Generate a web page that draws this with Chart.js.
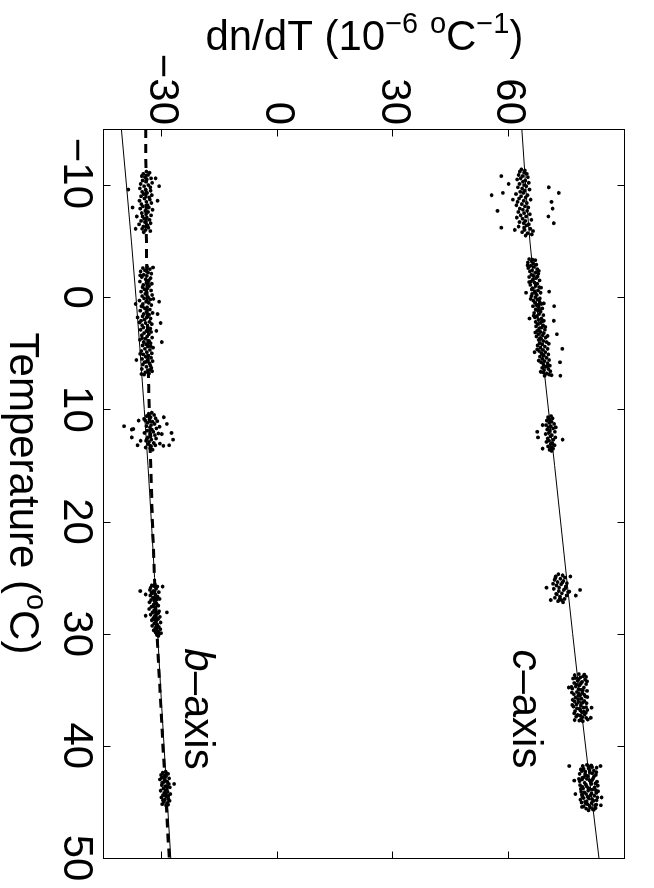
<!DOCTYPE html>
<html>
<head>
<meta charset="utf-8">
<script src="https://cdn.jsdelivr.net/npm/chart.js@4.4.0/dist/chart.umd.min.js"></script>
<style>
  html, body { margin: 0; padding: 0; background: #fff; overflow: hidden; }
  body { width: 654px; height: 888px; position: relative; }
  /* the figure is drawn landscape and turned a quarter clockwise */
  #wrap { position: absolute; left: 0; top: 0; width: 888px; height: 654px;
          transform-origin: 0 0; transform: translate(654px, 0) rotate(90deg); }
</style>
</head>
<body>
<div id="wrap"><canvas id="chart" width="888" height="654"></canvas></div>
<script>
const tempTicks = [-10, 0, 10, 20, 30, 40, 50];
const dndtTicks = [-30, 0, 30, 60];

const fitTemps = [-15, -5, 5, 15, 25, 35, 50];
const cFit = [63.3, 65.4, 68.6, 71.8, 74.9, 78.1, 83.3];
const bFit = [-40.5, -37.9, -35.6, -33.6, -31.9, -30.3, -27.7];
const bFitDashed = [-34.2, -34.0, -33.6, -32.9, -31.9, -30.5, -28.1];

// measured points [temperature, dn/dT], c-axis
const cAxisPoints = [
  // run near -8 C
  [-11.4,63.2],[-11.3,64.1],[-11.2,62.8],[-11.1,63.9],[-11.0,64.6],[-10.9,62.5],[-10.8,63.5],[-10.7,64.9],[-10.6,63.0],[-10.5,62.1],
  [-10.4,64.2],[-10.3,63.6],[-10.2,65.1],[-10.1,62.7],[-10.0,63.9],[-9.9,64.5],[-9.8,62.3],[-9.7,63.4],[-9.6,65.3],[-9.5,64.0],
  [-9.4,62.9],[-9.3,63.7],[-9.2,61.8],[-9.1,64.8],[-9.0,63.1],[-8.9,64.3],[-8.8,62.6],[-8.7,65.6],[-8.6,63.8],[-8.5,62.2],
  [-8.4,64.6],[-8.3,63.3],[-8.2,61.9],[-8.1,64.1],[-8.0,65.0],[-7.9,62.8],[-7.8,63.6],[-7.7,64.7],[-7.6,62.4],[-7.5,63.9],
  [-7.4,65.4],[-7.3,63.0],[-7.2,64.4],[-7.1,62.0],[-7.0,63.5],[-6.9,65.8],[-6.8,64.2],[-6.7,62.7],[-6.6,63.8],[-6.5,65.1],
  [-6.4,64.5],[-6.3,62.5],[-6.2,63.9],[-6.1,65.5],[-6.0,64.0],[-5.9,66.2],[-5.8,63.4],[-5.7,64.8],[-5.6,65.9],[-5.5,64.3],
  [-9.1,55.5],[-7.7,57.0],[-10.8,58.0],[-6.2,58.0],[-9.3,58.4],[-10.1,59.9],[-9.8,70.3],[-9.3,72.9],[-8.5,71.0],[-7.9,71.3],
  [-7.2,70.2],[-6.6,71.6],[-8.7,61.0],[-6.0,61.5],
  // run near 2 C
  [-3.4,65.2],[-3.3,66.8],[-3.2,65.9],[-3.1,64.9],[-3.0,66.3],[-2.9,67.1],[-2.8,65.6],[-2.7,66.5],[-2.6,65.0],[-2.5,67.3],
  [-2.4,66.0],[-2.3,65.4],[-2.2,66.9],[-2.1,67.6],[-2.0,65.8],[-1.9,66.4],[-1.8,65.2],[-1.7,67.0],[-1.6,66.2],[-1.5,67.9],
  [-1.4,65.7],[-1.3,66.6],[-1.2,67.3],[-1.1,65.5],[-1.0,66.9],[-0.9,67.8],[-0.8,66.1],[-0.7,65.9],[-0.6,67.5],[-0.5,66.6],
  [-0.4,68.2],[-0.3,66.0],[-0.2,67.2],[-0.1,65.8],[0.0,66.8],[0.1,68.0],[0.2,67.4],[0.3,66.3],[0.4,67.9],[0.5,66.7],
  [0.6,68.4],[0.7,67.1],[0.8,66.2],[0.9,67.7],[1.0,68.6],[1.1,66.9],[1.2,67.5],[1.3,68.2],[1.4,66.5],[1.5,67.8],
  [1.6,68.9],[1.7,67.2],[1.8,66.7],[1.9,68.4],[2.0,67.6],[2.1,69.0],[2.2,66.9],[2.3,68.1],[2.4,67.4],[2.5,68.8],
  [2.6,67.0],[2.7,68.5],[2.8,67.8],[2.9,69.3],[3.0,67.3],[3.1,68.2],[3.2,69.0],[3.3,67.6],[3.4,68.7],[3.5,67.1],
  [3.6,69.5],[3.7,68.3],[3.8,67.7],[3.9,68.9],[4.0,69.7],[4.1,67.9],[4.2,68.6],[4.3,67.4],[4.4,69.3],[4.5,68.1],
  [4.6,70.0],[4.7,68.8],[4.8,67.8],[4.9,69.4],[5.0,68.4],[5.1,70.2],[5.2,69.0],[5.3,68.0],[5.4,69.7],[5.5,68.6],
  [5.6,70.4],[5.7,69.2],[5.8,68.3],[5.9,70.0],[6.0,68.9],[6.1,70.6],[6.2,69.5],[6.3,68.6],[6.4,70.2],[6.5,69.1],
  [6.6,70.7],[6.7,68.8],[6.8,69.8],[6.9,70.4],[7.0,69.2],
  [-3.35,66.1],[-2.85,64.8],[-2.35,67.7],[-1.85,67.4],[-1.35,65.2],[-0.85,68.3],[-0.35,66.9],[0.15,65.6],[0.65,67.7],[1.15,68.0],
  [1.65,66.4],[2.15,68.5],[2.65,69.4],[3.15,66.8],[3.65,68.0],[4.15,70.3],[4.65,67.3],[5.15,68.8],[5.65,67.7],[6.15,69.9],
  [6.65,68.2],[6.95,71.0],[0.55,69.0],[3.45,70.0],
  [-0.5,70.4],[0.8,71.7],[2.1,71.6],[3.3,72.4],[4.6,73.8],[5.8,73.2],[7.0,73.3],[-0.4,64.4],[1.9,65.3],[4.9,66.6],
  // run near 12 C
  [10.6,70.9],[10.7,70.1],[10.8,71.3],[10.9,70.5],[11.0,69.8],[11.1,71.0],[11.2,70.4],[11.3,71.7],[11.4,69.6],[11.5,70.8],
  [11.6,70.2],[11.7,71.4],[11.8,69.9],[11.9,70.6],[12.0,71.9],[12.1,70.3],[12.2,69.5],[12.3,71.1],[12.4,70.7],[12.5,72.0],
  [12.6,70.0],[12.7,71.5],[12.8,70.4],[12.9,69.7],[13.0,71.2],[13.1,70.8],[13.2,71.8],[13.3,70.1],[13.4,70.9],[13.5,71.4],
  [13.6,70.5],[13.7,71.0],
  [12.0,67.3],[12.5,67.5],[11.4,68.7],[13.5,68.7],[12.7,73.9],[11.6,72.1],
  // run near 26 C
  [24.7,72.8],[24.8,73.9],[24.9,72.1],[25.0,74.5],[25.1,73.3],[25.2,71.8],[25.3,74.1],[25.4,72.6],[25.5,75.0],[25.6,73.5],
  [25.7,72.3],[25.8,74.7],[25.9,73.0],[26.0,71.6],[26.1,74.2],[26.2,72.9],[26.3,75.3],[26.4,73.7],[26.5,72.4],[26.6,74.9],
  [26.7,73.2],[26.8,71.9],[26.9,74.4],[27.0,73.6],[27.1,72.7],[27.2,74.0],[25.05,72.0],[25.45,73.8],[25.95,74.6],[26.45,72.2],
  [26.95,73.1],[25.55,71.4],[26.25,75.6],
  [26.6,77.3],[26.1,78.4],[27.0,70.8],[25.9,69.7],[24.9,75.9],
  // run near 36 C
  [33.6,78.1],[33.7,77.0],[33.8,79.2],[33.9,78.5],[34.0,76.6],[34.1,79.7],[34.2,77.8],[34.3,78.9],[34.4,76.9],[34.5,80.0],
  [34.6,78.3],[34.7,77.3],[34.8,79.4],[34.9,76.4],[35.0,78.7],[35.1,80.2],[35.2,77.6],[35.3,79.0],[35.4,76.8],[35.5,78.4],
  [35.6,79.8],[35.7,77.2],[35.8,78.8],[35.9,76.5],[36.0,79.5],[36.1,78.0],[36.2,80.1],[36.3,77.5],[36.4,78.6],[36.5,76.7],
  [36.6,79.3],[36.7,78.2],[36.8,80.3],[36.9,77.1],[37.0,78.9],[37.1,76.9],[37.2,79.6],[37.3,78.4],[37.4,77.4],[37.5,80.0],
  [37.6,78.7],[37.7,77.0],[37.8,79.1],[34.05,78.0],[34.55,77.5],[35.05,79.1],[35.55,77.9],[36.05,77.0],[36.55,80.0],[37.05,79.9],
  [33.85,80.0],[35.35,78.1],[36.85,78.5],
  [33.65,79.5],[33.95,77.2],[34.25,80.2],[34.45,78.6],[34.75,76.2],[34.95,78.0],[35.25,76.3],[35.65,80.3],[35.85,77.9],[36.15,79.1],
  [36.35,76.4],[36.65,77.6],[36.95,79.4],[37.25,77.8],[37.45,79.0],[37.65,80.4],[37.75,78.2],[35.45,79.5],
  [36.6,81.4],[37.5,81.2],[34.8,75.5],
  // run near 44 C
  [41.7,80.2],[41.8,79.1],[41.9,81.5],[42.0,80.6],[42.1,78.6],[42.2,82.0],[42.3,79.8],[42.4,81.0],[42.5,78.3],[42.6,82.5],
  [42.7,80.4],[42.8,79.4],[42.9,81.8],[43.0,78.9],[43.1,80.9],[43.2,82.8],[43.3,79.6],[43.4,81.3],[43.5,78.4],[43.6,80.1],
  [43.7,82.2],[43.8,79.2],[43.9,81.6],[44.0,80.5],[44.1,78.7],[44.2,82.6],[44.3,80.0],[44.4,81.1],[44.5,79.0],[44.6,82.9],
  [44.7,80.7],[44.8,78.5],[44.9,81.9],[45.0,79.7],[45.1,81.4],[45.2,80.3],[45.3,82.3],[45.4,79.3],[45.5,81.0],[45.6,80.0],
  [45.7,82.0],[41.75,81.3],[42.05,79.3],[42.35,82.6],[42.65,80.0],[42.95,78.1],[43.25,81.2],[43.55,83.0],[43.85,80.8],[44.15,79.5],
  [44.45,82.1],[44.75,81.5],[45.05,78.8],[45.35,80.9],[45.65,81.7],[42.15,80.9],[43.45,79.9],[44.05,83.1],[44.95,80.1],[43.15,78.3],
  [41.85,80.6],[42.25,78.9],[42.45,81.6],[42.75,82.0],[42.85,79.0],[43.05,81.5],[43.35,82.4],[43.65,79.0],[43.75,80.5],[43.95,82.5],
  [44.25,81.4],[44.35,78.9],[44.55,80.4],[44.85,82.7],[45.15,79.9],[45.25,82.6],[45.45,78.9],[45.55,82.4],[42.55,79.7],[43.85,78.6],
  [44.65,79.3],[45.75,80.6],[41.95,82.7],[42.95,80.2],
  [41.8,75.6],[41.8,83.7],[43.1,76.9],[44.3,77.2],[45.3,83.8],[44.6,84.0]
];

// measured points [temperature, dn/dT], b-axis
const bAxisPoints = [
  // run near -8 C
  [-11.2,-34.0],[-11.1,-33.2],[-11.0,-34.8],[-10.9,-33.6],[-10.8,-35.2],[-10.7,-34.4],[-10.6,-32.8],[-10.5,-33.9],[-10.4,-35.0],[-10.3,-34.1],
  [-10.2,-32.5],[-10.1,-35.5],[-10.0,-33.5],[-9.9,-34.6],[-9.8,-33.0],[-9.7,-35.7],[-9.6,-34.2],[-9.5,-32.9],[-9.4,-35.1],[-9.3,-33.8],
  [-9.2,-34.7],[-9.1,-32.6],[-9.0,-35.4],[-8.9,-33.3],[-8.8,-34.5],[-8.7,-33.1],[-8.6,-35.8],[-8.5,-34.0],[-8.4,-32.7],[-8.3,-35.3],
  [-8.2,-33.7],[-8.1,-34.9],[-8.0,-33.4],[-7.9,-35.6],[-7.8,-32.4],[-7.7,-34.3],[-7.6,-33.6],[-7.5,-35.2],[-7.4,-34.1],[-7.3,-32.8],
  [-7.2,-35.0],[-7.1,-33.9],[-7.0,-34.6],[-6.9,-33.2],[-6.8,-35.4],[-6.7,-34.4],[-6.6,-32.9],[-6.5,-35.9],[-6.4,-33.7],[-6.3,-34.8],
  [-6.2,-33.5],[-6.1,-35.1],[-6.0,-34.2],[-5.9,-33.0],[-5.8,-34.7],
  [-9.6,-38.7],[-8.0,-37.6],[-7.2,-36.5],[-6.1,-36.8],[-8.6,-31.1],[-9.9,-30.7],[-10.6,-31.6],
  // run near 2 C
  [-2.7,-33.8],[-2.6,-34.9],[-2.5,-33.1],[-2.4,-34.4],[-2.3,-35.5],[-2.2,-33.6],[-2.1,-32.7],[-2.0,-34.7],[-1.9,-33.9],[-1.8,-35.2],
  [-1.7,-32.9],[-1.6,-34.2],[-1.5,-33.4],[-1.4,-35.7],[-1.3,-34.0],[-1.2,-32.6],[-1.1,-34.8],[-1.0,-33.3],[-0.9,-35.0],[-0.8,-33.7],
  [-0.7,-34.5],[-0.6,-32.8],[-0.5,-35.4],[-0.4,-33.9],[-0.3,-34.3],[-0.2,-32.5],[-0.1,-35.1],[0.0,-33.6],[0.1,-34.6],[0.2,-33.0],
  [0.3,-35.8],[0.4,-34.1],[0.5,-33.4],[0.6,-34.9],[0.7,-32.7],[0.8,-35.3],[0.9,-33.8],[1.0,-34.4],[1.1,-33.1],[1.2,-35.6],
  [1.3,-34.0],[1.4,-32.4],[1.5,-34.7],[1.6,-33.5],[1.7,-35.0],[1.8,-33.9],[1.9,-32.9],[2.0,-34.5],[2.1,-35.4],[2.2,-33.2],
  [2.3,-34.2],[2.4,-32.6],[2.5,-35.1],[2.6,-33.7],[2.7,-34.8],[2.8,-33.0],[2.9,-35.5],[3.0,-34.0],[3.1,-32.8],[3.2,-34.6],
  [3.3,-33.4],[3.4,-35.2],[3.5,-33.8],[3.6,-32.5],[3.7,-34.3],[3.8,-35.7],[3.9,-33.3],[4.0,-34.7],[4.1,-32.9],[4.2,-34.1],
  [4.3,-35.0],[4.4,-33.6],[4.5,-32.3],[4.6,-34.4],[4.7,-33.1],[4.8,-35.3],[4.9,-33.9],[5.0,-32.6],[5.1,-34.8],[5.2,-33.5],
  [5.3,-34.2],[5.4,-32.8],[5.5,-35.1],[5.6,-33.7],[5.7,-32.4],[5.8,-34.5],[5.9,-33.2],[6.0,-34.9],[6.1,-33.0],[6.2,-34.0],
  [6.3,-32.7],[6.4,-35.2],[6.5,-33.6],[6.6,-32.5],[6.7,-34.3],[6.8,-33.3],[6.9,-34.6],
  [-2.65,-32.3],[-1.95,-35.6],[-1.25,-33.6],[-0.55,-34.0],[0.15,-32.2],[0.85,-34.9],[1.55,-33.3],[2.25,-35.8],[2.95,-33.4],[3.65,-35.1],
  [4.35,-32.9],[5.05,-35.6],[5.75,-34.0],[6.45,-32.9],[6.85,-35.3],
  [0.4,-30.7],[0.6,-36.8],[1.5,-31.1],[2.3,-30.3],[4.0,-30.0],[1.8,-36.3],[5.6,-36.6],[3.0,-31.4],
  // run near 12 C
  [10.3,-32.6],[10.4,-33.4],[10.5,-32.0],[10.6,-33.9],[10.7,-32.9],[10.8,-31.6],[10.9,-33.2],[11.0,-34.3],[11.1,-32.4],[11.2,-33.7],
  [11.3,-31.9],[11.4,-32.8],[11.5,-34.0],[11.6,-33.1],[11.7,-31.4],[11.8,-32.6],[11.9,-33.8],[12.0,-32.2],[12.1,-34.5],[12.2,-33.0],
  [12.3,-31.8],[12.4,-32.9],[12.5,-33.6],[12.6,-31.5],[12.7,-32.7],[12.8,-34.1],[12.9,-33.3],[13.0,-32.1],[13.1,-33.5],[13.2,-31.7],
  [13.3,-32.8],[13.4,-34.2],[13.5,-33.0],[13.6,-32.4],[11.05,-31.2],[11.55,-30.6],[12.15,-30.9],[12.65,-33.9],[10.85,-34.6],[13.05,-30.5],
  [11.5,-39.8],[12.5,-37.8],[11.8,-37.8],[11.75,-37.4],[13.2,-36.3],[12.8,-35.5],[11.3,-28.7],[12.1,-27.5],[12.7,-27.1],[13.2,-28.1],
  [13.25,-29.6],[12.2,-30.0],[11.0,-36.0],[10.7,-29.5],
  // run near 28 C
  [25.6,-31.8],[25.7,-32.6],[25.8,-31.2],[25.9,-32.9],[26.0,-31.5],[26.1,-33.1],[26.2,-32.2],[26.3,-30.8],[26.4,-32.5],[26.5,-31.7],
  [26.6,-33.0],[26.7,-31.1],[26.8,-32.3],[26.9,-30.6],[27.0,-32.8],[27.1,-31.9],[27.2,-33.2],[27.3,-31.4],[27.4,-32.1],[27.5,-30.9],
  [27.6,-32.7],[27.7,-31.6],[27.8,-33.3],[27.9,-32.0],[28.0,-30.7],[28.1,-32.4],[28.2,-31.3],[28.3,-32.9],[28.4,-31.8],[28.5,-30.5],
  [28.6,-32.2],[28.7,-31.0],[28.8,-32.6],[28.9,-31.5],[29.0,-30.3],[29.1,-32.0],[29.2,-31.2],[29.3,-32.5],[29.4,-30.8],[29.5,-31.7],
  [29.6,-30.4],[29.7,-32.1],[29.8,-31.0],[29.9,-31.6],[30.0,-30.6],[30.1,-31.3],[30.2,-30.9],[26.25,-31.9],[26.85,-32.0],[27.45,-31.2],
  [28.05,-31.9],[28.65,-31.5],
  [25.75,-32.0],[26.35,-32.7],[26.95,-31.3],[27.55,-32.2],[28.15,-30.9],[28.75,-31.9],[29.35,-31.4],[29.95,-30.2],
  [26.2,-35.6],[26.5,-34.2],[25.8,-29.8],[28.1,-28.7],[28.4,-34.2],
  // run near 44 C
  [42.3,-29.0],[42.4,-29.8],[42.5,-28.4],[42.6,-30.2],[42.7,-28.9],[42.8,-29.5],[42.9,-28.1],[43.0,-30.5],[43.1,-29.3],[43.2,-28.6],
  [43.3,-29.9],[43.4,-28.2],[43.5,-30.0],[43.6,-29.1],[43.7,-27.9],[43.8,-29.6],[43.9,-28.7],[44.0,-30.3],[44.1,-28.5],[44.2,-29.4],
  [44.3,-27.8],[44.4,-29.7],[44.5,-28.8],[44.6,-30.1],[44.7,-28.3],[44.8,-29.2],[44.9,-28.0],[45.0,-29.5],[45.1,-28.6],[45.2,-29.9],
  [45.3,-28.9],[42.45,-28.8],[42.85,-30.0],[43.25,-29.6],[43.65,-28.5],[44.05,-29.0],[44.45,-28.3],[44.85,-29.7],[45.25,-28.4],
  [43.4,-26.8]
];

const FONT = "'Liberation Sans', Arial, Helvetica, sans-serif";
const SIZE = 42;

// draws text runs; style 'sup' is small and raised, 'it' is italic
function drawRich(ctx, parts, x, y, size, align) {
  const small = Math.round(size * 0.7);
  const fontOf = p => (p[1] === 'it' ? 'italic ' : '') + (p[1] === 'sup' ? small : size) + 'px ' + FONT;
  let total = 0;
  parts.forEach(p => { ctx.font = fontOf(p); total += ctx.measureText(p[0]).width; });
  let cx = align === 'center' ? x - total / 2 : x;
  ctx.textAlign = 'left';
  ctx.textBaseline = 'alphabetic';
  parts.forEach(p => {
    ctx.font = fontOf(p);
    ctx.fillText(p[0], cx, p[1] === 'sup' ? y - size * 0.4 : y);
    cx += ctx.measureText(p[0]).width;
  });
}

function minusLabel(v) {
  return v < 0 ? '\u2212' + (-v) : String(v);
}

// box, inward ticks, axis titles and the two labels
const matlabFrame = {
  id: 'matlabFrame',
  afterDraw(chart) {
    const { ctx, chartArea: a, scales: { x, y } } = chart;
    const L = Math.round(a.left) + 0.5, R = Math.round(a.right) + 0.5;
    const T = Math.round(a.top) + 0.5, B = Math.round(a.bottom) + 0.5;
    ctx.save();
    ctx.strokeStyle = '#000';
    ctx.lineWidth = 1;
    ctx.strokeRect(L, T, R - L, B - T);
    ctx.beginPath();
    tempTicks.forEach(v => {
      const px = Math.round(x.getPixelForValue(v)) + 0.5;
      ctx.moveTo(px, B); ctx.lineTo(px, B - 7);
      ctx.moveTo(px, T); ctx.lineTo(px, T + 7);
    });
    dndtTicks.forEach(v => {
      const py = Math.round(y.getPixelForValue(v)) + 0.5;
      ctx.moveTo(L, py); ctx.lineTo(L + 7, py);
      ctx.moveTo(R, py); ctx.lineTo(R - 7, py);
    });
    ctx.stroke();

    ctx.fillStyle = '#000';
    drawRich(ctx, [['Temperature ('], ['o', 'sup'], ['C)']], (a.left + a.right) / 2, 644, SIZE, 'center');

    ctx.save();
    ctx.translate(50, (a.top + a.bottom) / 2);
    ctx.rotate(-Math.PI / 2);
    drawRich(ctx, [['dn/dT (10'], ['\u22126', 'sup'], [' '], ['o', 'sup'], ['C'], ['\u22121', 'sup'], [')']], 0, 0, SIZE, 'center');
    ctx.restore();

    drawRich(ctx, [['c', 'it'], ['\u2013axis']], x.getPixelForValue(31.4), y.getPixelForValue(61.0), SIZE, 'left');
    drawRich(ctx, [['b', 'it'], ['\u2013axis']], x.getPixelForValue(31.3), y.getPixelForValue(-24.0), SIZE, 'left');
    ctx.restore();
  }
};

const toXY = pts => pts.map(p => ({ x: p[0], y: p[1] }));
const fitXY = vals => fitTemps.map((t, i) => ({ x: t, y: vals[i] }));

new Chart(document.getElementById('chart'), {
  type: 'scatter',
  data: {
    datasets: [
      { label: 'c-axis', data: toXY(cAxisPoints), pointRadius: 1.9, pointBorderWidth: 0, backgroundColor: '#000' },
      { label: 'b-axis', data: toXY(bAxisPoints), pointRadius: 1.9, pointBorderWidth: 0, backgroundColor: '#000' },
      { label: 'c-axis fit', data: fitXY(cFit), showLine: true, borderColor: '#000', borderWidth: 1,
        pointRadius: 0, cubicInterpolationMode: 'monotone' },
      { label: 'b-axis fit', data: fitXY(bFit), showLine: true, borderColor: '#000', borderWidth: 1,
        pointRadius: 0, cubicInterpolationMode: 'monotone' },
      { label: 'b-axis fit 2', data: fitXY(bFitDashed), showLine: true, borderColor: '#000', borderWidth: 3,
        borderDash: [9, 6], pointRadius: 0, cubicInterpolationMode: 'monotone' }
    ]
  },
  options: {
    responsive: false,
    animation: false,
    devicePixelRatio: 1,
    layout: { padding: { left: 0, top: 29, right: 30, bottom: 0 } },
    plugins: { legend: { display: false }, tooltip: { enabled: false } },
    scales: {
      x: {
        type: 'linear', min: -15, max: 50,
        grid: { display: false, drawTicks: false },
        border: { display: false },
        afterBuildTicks: s => { s.ticks = tempTicks.map(v => ({ value: v })); },
        afterFit: s => { s.height = 104; },
        ticks: {
          autoSkip: false, maxRotation: 0, minRotation: 0, padding: 3, color: '#000',
          font: { family: FONT, size: SIZE },
          // the minus hangs off to the left in the original, so pad it
          callback: v => v < 0 ? minusLabel(v) + '  ' : minusLabel(v)
        }
      },
      y: {
        type: 'linear', min: -45, max: 90,
        grid: { display: false, drawTicks: false },
        border: { display: false },
        afterBuildTicks: s => { s.ticks = dndtTicks.map(v => ({ value: v })); },
        afterFit: s => { s.width = 129; },
        ticks: {
          autoSkip: false, padding: 4, color: '#000',
          font: { family: FONT, size: SIZE },
          callback: v => minusLabel(v)
        }
      }
    }
  },
  plugins: [matlabFrame]
});
</script>
</body>
</html>
